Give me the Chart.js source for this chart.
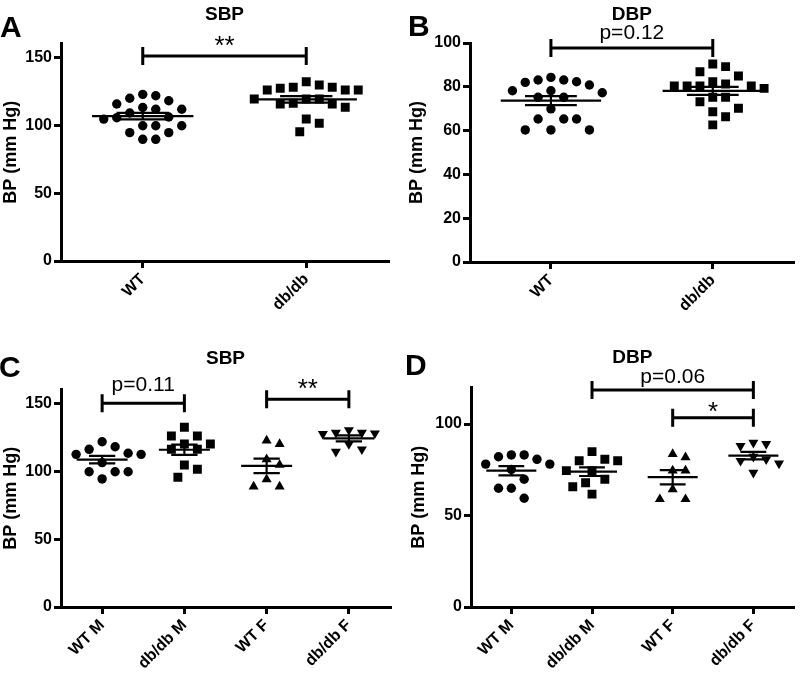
<!DOCTYPE html>
<html>
<head>
<meta charset="utf-8">
<script src="https://cdn.jsdelivr.net/npm/chart.js@4.4.1/dist/chart.umd.min.js"></script>
<style>
  html, body { margin: 0; padding: 0; background: #fff; }
  #wrap { position: relative; width: 800px; height: 673px; }
  canvas { position: absolute; }
</style>
</head>
<body>
<div id="wrap">
  <canvas id="chartA" width="400" height="320" style="left:0;top:0"></canvas>
  <canvas id="chartB" width="400" height="320" style="left:400px;top:0"></canvas>
  <canvas id="chartC" width="400" height="353" style="left:0;top:320px"></canvas>
  <canvas id="chartD" width="400" height="353" style="left:400px;top:320px"></canvas>
</div>
<script>
const FONT = "'Liberation Sans', Arial, Helvetica, sans-serif";

const groupsAB = ["WT", "db/db"];
const groupsCD = ["WT M", "db/db M", "WT F", "db/db F"];

// A: SBP, all mice
const sbpWT = [122.7, 121.7, 119.8, 118.0, 115.6, 113.0, 111.7, 111.7, 109.0, 106.0,
  104.5, 105.5, 99.6, 99.6, 99.6, 94.5, 94.5, 89.6, 89.6];
const sbpDb = [129.6, 127.9, 125.9, 125.9, 125.9, 127.2, 127.9, 132.0, 119.3, 116.1,
  115.6, 113.2, 115.6, 119.3, 119.3, 104.6, 101.4, 95.2];

// B: DBP, all mice
const dbpWT = [83.1, 82.0, 84.3, 82.3, 83.1, 78.2, 77.3, 78.2, 80.8, 75.2, 75.2, 69.9,
  65.3, 65.3, 65.3, 60.3, 60.3, 60.3];
const dbpDb = [89.2, 90.4, 86.9, 84.9, 82.3, 80.4, 80.4, 79.3, 80.4, 80.4, 81.3, 75.2,
  73.2, 75.2, 70.2, 68.6, 66.3, 62.6];

// C: SBP by sex
const sbpWTM = [121.7, 118.0, 113.2, 116.1, 112.4, 112.4, 106.3, 99.6, 99.6, 99.6, 94.3];
const sbpDbM = [132.3, 125.9, 125.9, 120.0, 120.0, 116.1, 116.1, 104.6, 101.4, 95.5];
const sbpWTF = [120.0, 122.5, 108.8, 104.6, 94.0, 88.6, 88.6];
const sbpDbF = [128.4, 127.9, 127.4, 128.4, 130.3, 120.0, 114.4, 116.1];

// D: DBP by sex
const dbpWTM = [83.1, 80.7, 82.1, 83.1, 78.1, 78.1, 75.2, 69.8, 64.9, 64.9, 59.4];
const dbpDbM = [84.9, 80.7, 79.9, 79.9, 74.5, 74.5, 69.8, 67.9, 65.7, 61.7];
const dbpWTF = [83.6, 81.8, 74.5, 74.5, 64.3, 58.9, 58.9];
const dbpDbF = [88.0, 89.8, 89.1, 80.7, 82.1, 78.5, 79.9, 73.4];

const pointSize = { circle: 4.7, rect: 6.3, triangle: 5.8, down: 5.8 };

function mean(a) { return a.reduce((s, v) => s + v, 0) / a.length; }
function sem(a) {
  const m = mean(a);
  const sd = Math.sqrt(a.reduce((s, v) => s + (v - m) * (v - m), 0) / (a.length - 1));
  return sd / Math.sqrt(a.length);
}

// simple beeswarm so dots don't overlap (Prism-style scatter dot plot)
function swarm(values, center, pxX, pxY) {
  const gap = 13;
  const order = values.map((v, i) => i).sort((a, b) => values[b] - values[a]);
  const placed = [];
  const out = [];
  order.forEach(i => {
    const py = values[i] * pxY;
    for (let k = 0; k < 60; k++) {
      const dx = (k % 2 ? 1 : -1) * Math.ceil(k / 2) * gap / 2;
      if (placed.every(p => Math.hypot(p.x - dx, p.y - py) >= gap)) {
        placed.push({ x: dx, y: py });
        out.push({ x: center + dx / pxX, y: values[i] });
        break;
      }
    }
  });
  return out;
}

const decor = {
  id: "decor",
  afterDatasetsDraw(chart, args, o) {
    const { ctx, chartArea, scales } = chart;
    const x = scales.x, y = scales.y;
    ctx.save();
    ctx.fillStyle = "#000";
    ctx.strokeStyle = "#000";
    ctx.textBaseline = "alphabetic";

    ctx.font = "bold 30px " + FONT;
    ctx.textAlign = "left";
    ctx.fillText(o.letter, o.letterX, o.letterY);

    ctx.font = "bold 19px " + FONT;
    ctx.textAlign = "center";
    ctx.fillText(o.title, (chartArea.left + chartArea.right) / 2, o.titleY);

    ctx.lineWidth = 3;
    o.brackets.forEach(b => {
      const x0 = x.getPixelForValue(b.from);
      const x1 = x.getPixelForValue(b.to);
      const yy = y.getPixelForValue(b.y);
      ctx.beginPath();
      ctx.moveTo(x0, yy - 9); ctx.lineTo(x0, yy + 9);
      ctx.moveTo(x0, yy); ctx.lineTo(x1, yy);
      ctx.moveTo(x1, yy - 9); ctx.lineTo(x1, yy + 9);
      ctx.stroke();
      const star = /^\*+$/.test(b.label);
      ctx.font = (star ? "26px " : "21px ") + FONT;
      ctx.fillText(b.label, (x0 + x1) / 2, yy - b.gap);
    });
    ctx.restore();
  }
};

function makePanel(id, cfg) {
  const ctx = document.getElementById(id).getContext("2d");
  const n = cfg.groups.length;
  const plotW = 400 - cfg.area.left - cfg.area.right;
  const plotH = cfg.height - cfg.area.top - cfg.area.bottom;
  const pxX = plotW / n;
  const pxY = plotH / cfg.yMax;

  const datasets = [];
  cfg.values.forEach((vals, i) => {
    const m = mean(vals), s = sem(vals);
    datasets.push({
      type: "line",
      order: 0,
      data: [
        { x: i - 0.31, y: m }, { x: i + 0.31, y: m }, { x: i, y: null },
        { x: i - 0.16, y: m + s }, { x: i + 0.16, y: m + s }, { x: i, y: null },
        { x: i - 0.16, y: m - s }, { x: i + 0.16, y: m - s }, { x: i, y: null },
        { x: i, y: m - s }, { x: i, y: m + s }
      ],
      borderColor: "#000",
      borderWidth: 2.2,
      pointRadius: 0,
      spanGaps: false
    });
    const shape = cfg.shapes[i];
    datasets.push({
      type: "scatter",
      order: 1,
      data: swarm(vals, i, pxX, pxY),
      pointStyle: shape === "down" ? "triangle" : shape,
      rotation: shape === "down" ? 180 : 0,
      pointRadius: pointSize[shape],
      backgroundColor: "#000",
      borderWidth: 0
    });
  });

  new Chart(ctx, {
    type: "scatter",
    data: { datasets: datasets },
    options: {
      responsive: false,
      animation: false,
      layout: { padding: { left: 0, top: cfg.area.top, right: cfg.area.right, bottom: 0 } },
      plugins: {
        legend: { display: false },
        tooltip: { enabled: false },
        decor: cfg.decor
      },
      scales: {
        x: {
          type: "linear",
          min: -0.5,
          max: n - 0.5,
          afterBuildTicks: s => { s.ticks = cfg.groups.map((g, i) => ({ value: i })); },
          afterFit: s => { s.height = cfg.area.bottom; },
          ticks: {
            callback: v => cfg.groups[v],
            color: "#000",
            font: { family: FONT, size: 16, weight: "bold" },
            minRotation: 45,
            maxRotation: 45,
            autoSkip: false,
            padding: 2
          },
          grid: { drawOnChartArea: false, drawTicks: true, tickLength: 7, lineWidth: 3, color: "#000" },
          border: { display: true, width: 3, color: "#000" }
        },
        y: {
          min: 0,
          max: cfg.yMax,
          afterBuildTicks: s => {
            const t = [];
            for (let v = 0; v <= cfg.yMax; v += cfg.yStep) t.push({ value: v });
            s.ticks = t;
          },
          afterFit: s => { s.width = cfg.area.left; },
          ticks: {
            color: "#000",
            font: { family: FONT, size: 16, weight: "bold" },
            padding: 2
          },
          grid: { drawOnChartArea: false, drawTicks: true, tickLength: 7, lineWidth: 3, color: "#000" },
          border: { display: true, width: 3, color: "#000" },
          title: {
            display: true,
            text: "BP (mm Hg)",
            color: "#000",
            font: { family: FONT, size: 18, weight: "bold" },
            padding: { top: cfg.titlePad, bottom: 0 }
          }
        }
      }
    },
    plugins: [decor]
  });
}

makePanel("chartA", {
  height: 320,
  area: { left: 61, top: 43.7, right: 12, bottom: 59 },
  groups: groupsAB,
  values: [sbpWT, sbpDb],
  shapes: ["circle", "rect"],
  yMax: 160, yStep: 50, titlePad: 0,
  decor: {
    letter: "A", letterX: 0, letterY: 37, title: "SBP", titleY: 20,
    brackets: [{ from: 0, to: 1, y: 151, label: "**", gap: 2 }]
  }
});

makePanel("chartB", {
  height: 320,
  area: { left: 70, top: 43, right: 2, bottom: 58 },
  groups: groupsAB,
  values: [dbpWT, dbpDb],
  shapes: ["circle", "rect"],
  yMax: 100, yStep: 20, titlePad: 6,
  decor: {
    letter: "B", letterX: 8, letterY: 36, title: "DBP", titleY: 20,
    brackets: [{ from: 0, to: 1, y: 97.7, label: "p=0.12", gap: 9 }]
  }
});

makePanel("chartC", {
  height: 353,
  area: { left: 61, top: 69.7, right: 10, bottom: 66 },
  groups: groupsCD,
  values: [sbpWTM, sbpDbM, sbpWTF, sbpDbF],
  shapes: ["circle", "rect", "triangle", "down"],
  yMax: 160, yStep: 50, titlePad: 0,
  decor: {
    letter: "C", letterX: -1, letterY: 57, title: "SBP", titleY: 44,
    brackets: [
      { from: 0, to: 1, y: 150, label: "p=0.11", gap: 12 },
      { from: 2, to: 3, y: 153, label: "**", gap: 2 }
    ]
  }
});

makePanel("chartD", {
  height: 353,
  area: { left: 71, top: 67.4, right: 2, bottom: 66 },
  groups: groupsCD,
  values: [dbpWTM, dbpDbM, dbpWTF, dbpDbF],
  shapes: ["circle", "rect", "triangle", "down"],
  yMax: 120, yStep: 50, titlePad: 8,
  decor: {
    letter: "D", letterX: 5, letterY: 55, title: "DBP", titleY: 43,
    brackets: [
      { from: 1, to: 3, y: 118.6, label: "p=0.06", gap: 7 },
      { from: 2, to: 3, y: 103.4, label: "*", gap: -2 }
    ]
  }
});
</script>
</body>
</html>
